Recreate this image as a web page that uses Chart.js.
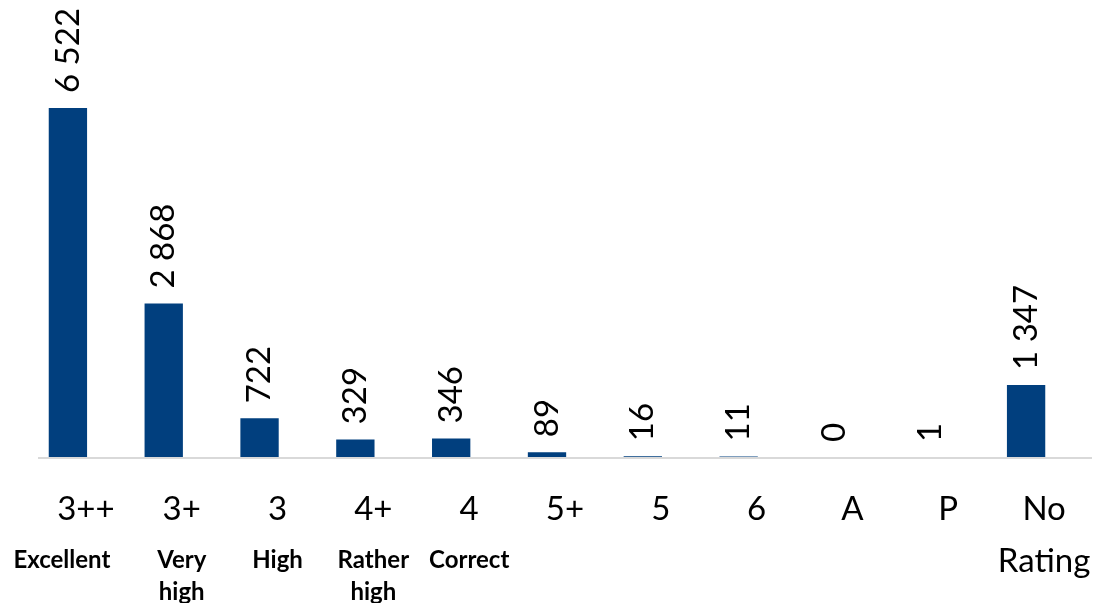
<!DOCTYPE html>
<html>
<head>
<meta charset="utf-8">
<script src="https://cdn.jsdelivr.net/npm/chart.js@4.4.1/dist/chart.umd.min.js"></script>
<style>
  body { margin: 0; background: #fff; }
  #wrap { width: 1099px; height: 603px; }
</style>
</head>
<body>
<div id="wrap"><canvas id="ratingChart"></canvas></div>
<script>
// Données du graphique
const grades = ['3++', '3+', '3', '4+', '4', '5+', '5', '6', 'A', 'P', 'No'];
const gradeNames = ['Excellent', ['Very', 'high'], 'High', ['Rather', 'high'], 'Correct', '', '', '', '', '', 'Rating'];
const counts = [6522, 2868, 722, 329, 346, 89, 16, 11, 0, 1, 1347];

const SHIFT = 18; // les libellés sont décalés à droite des barres
const FONT = 'Lato';

function fmt(v) {
    return String(v).replace(/\B(?=(\d{3})+(?!\d))/g, ' ');
}

// Hauteur fixe de l'axe, sans marge automatique sur les côtés
function fixAxis(h) {
    return (s) => {
        s.height = h;
        s.paddingLeft = 0;
        s.paddingRight = 0;
    };
}

// Ligne de base grise
const baseLine = {
    id: 'baseLine',
    beforeDatasetsDraw(chart) {
        const { ctx, chartArea, scales } = chart;
        const y = scales.y.getPixelForValue(0) + 1;
        ctx.save();
        ctx.strokeStyle = '#d9d9d9';
        ctx.lineWidth = 2;
        ctx.beginPath();
        ctx.moveTo(chartArea.left + SHIFT, y);
        ctx.lineTo(chartArea.right + SHIFT, y);
        ctx.stroke();
        ctx.restore();
    }
};

// Valeurs verticales au-dessus des barres
const valueLabels = {
    id: 'valueLabels',
    afterDatasetsDraw(chart) {
        const ctx = chart.ctx;
        const meta = chart.getDatasetMeta(0);
        ctx.save();
        ctx.font = '33px ' + FONT;
        ctx.fillStyle = '#000';
        ctx.textAlign = 'left';
        ctx.textBaseline = 'middle';
        meta.data.forEach((bar, i) => {
            ctx.save();
            ctx.translate(bar.x, bar.y - 15);
            ctx.rotate(-Math.PI / 2);
            ctx.fillText(fmt(counts[i]), 0, 0);
            ctx.restore();
        });
        ctx.restore();
    }
};

const ctx = document.getElementById('ratingChart').getContext('2d');
const ratingChart = new Chart(ctx, {
    type: 'bar',
    data: {
        labels: grades,
        datasets: [{
            data: counts,
            backgroundColor: '#013f7e',
            categoryPercentage: 1,
            barPercentage: 0.4
        }]
    },
    options: {
        responsive: true,
        maintainAspectRatio: false,
        animation: false,
        layout: { padding: { left: 20, right: 25, top: 0, bottom: 0 } },
        plugins: {
            legend: { display: false },
            tooltip: { enabled: false }
        },
        scales: {
            x: {
                offset: true,
                grid: { display: false },
                border: { display: false },
                afterFit: fixAxis(80),
                ticks: {
                    color: '#000',
                    font: { family: FONT, size: 33, lineHeight: 1 },
                    padding: 28,
                    labelOffset: SHIFT,
                    maxRotation: 0,
                    autoSkip: false
                }
            },
            x2: {
                type: 'category',
                labels: gradeNames,
                position: 'bottom',
                offset: true,
                grid: { display: false },
                border: { display: false },
                afterFit: fixAxis(66),
                ticks: {
                    color: '#000',
                    font: (c) => c.index === 10
                        ? { family: FONT, size: 33, lineHeight: 1 }
                        : { family: FONT, size: 24, weight: 'bold', lineHeight: 1.3 },
                    // "Excellent" est un peu décalé vers la gauche
                    callback: (v, i) => i === 0 ? gradeNames[0] + '\u2003\u2003\u2002' : gradeNames[i],
                    padding: 0,
                    labelOffset: SHIFT,
                    maxRotation: 0,
                    autoSkip: false
                }
            },
            y: {
                display: false,
                min: 0,
                max: 8540
            }
        }
    },
    plugins: [baseLine, valueLabels]
});
</script>
</body>
</html>
